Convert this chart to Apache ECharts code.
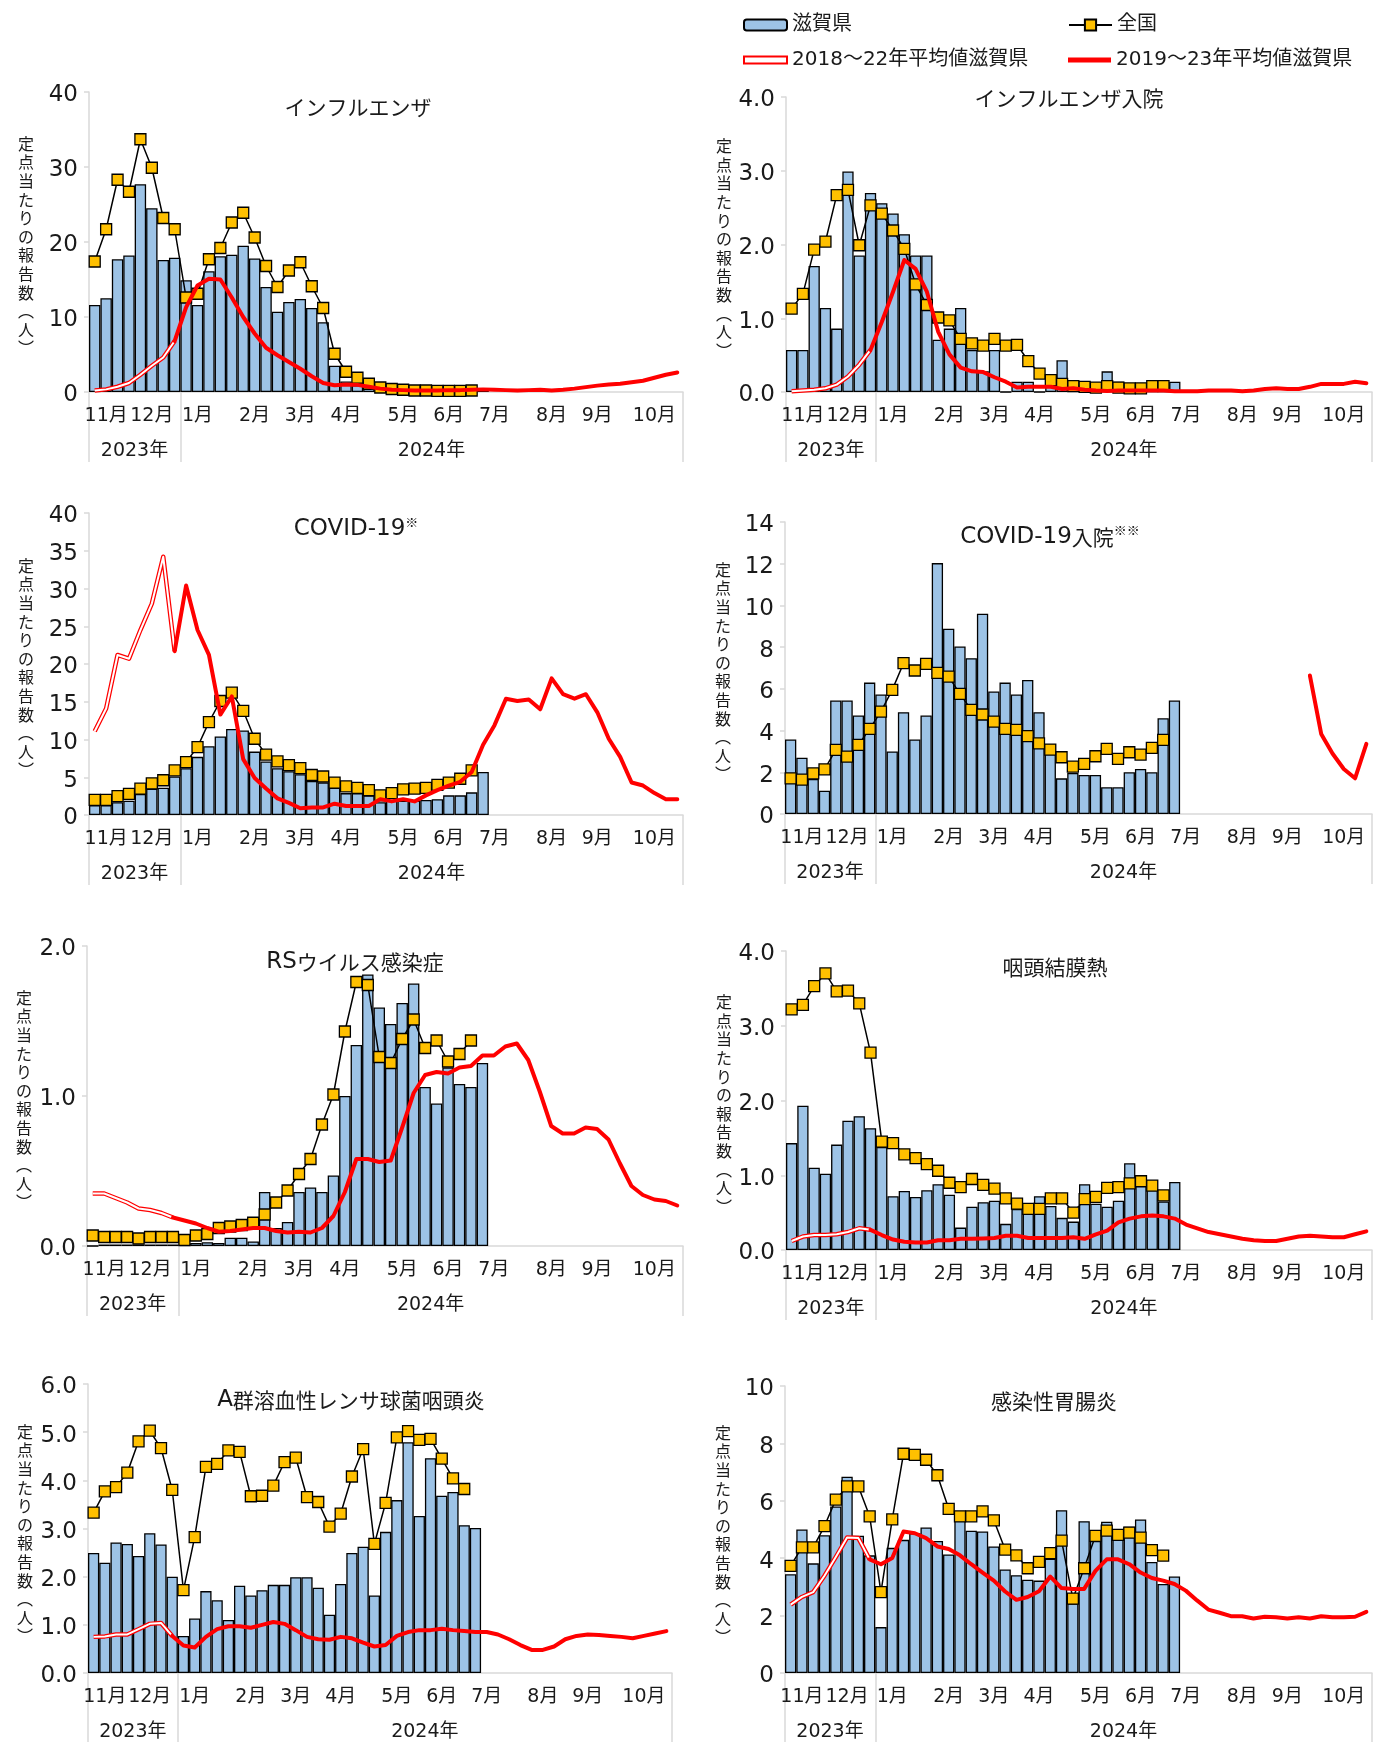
<!DOCTYPE html>
<html lang="ja">
<head>
<meta charset="utf-8">
<title>定点当たり報告数の推移（滋賀県）</title>
<script src="https://cdn.jsdelivr.net/npm/echarts@6/dist/echarts.min.js"></script>
<style>
  html, body { margin: 0; padding: 0; background: #fff; }
  #chart { width: 1373px; height: 1742px; }
</style>
</head>
<body>
<div id="chart"></div>
<script>
// ---- weekly categories: 2023 W45 … 2024 W44 ----
const weeks = [];
for (let w = 45; w <= 52; w++) weeks.push('2023-W' + w);
for (let w = 1; w <= 44; w++) weeks.push('2024-W' + w);

// month labels and where they sit on the week axis
const monthNames = ['11月', '12月', '1月', '2月', '3月', '4月', '5月', '6月', '7月', '8月', '9月', '10月'];
const monthAt = [1, 5, 9, 14, 18, 22, 27, 31, 35, 40, 44, 49];
// year labels and the weeks where each year starts
const yearNames = ['2023年', '2024年'];
const yearAt = [3, 29];
const yearStarts = [0, 8];

// ---- インフルエンザ ----
const fluShiga = [11.6, 12.5, 17.7, 18.2, 27.7, 24.5, 17.6, 17.9, 14.9, 11.6, 16.1, 18.1, 18.3, 19.5, 17.8, 14.0, 10.7, 12.0, 12.4, 11.2, 9.3, 3.5, 1.4, 0.9, 0.6, 0.4, 0.3, 0.3, 0.2, 0.2, 0.2, 0.2, 0.2, 0.2, 0.3];
const fluNational = [17.4, 21.7, 28.3, 26.7, 33.7, 29.9, 23.2, 21.7, 12.6, 13.1, 17.7, 19.2, 22.6, 23.9, 20.6, 16.8, 14.0, 16.2, 17.3, 14.1, 11.2, 5.1, 2.7, 1.9, 1.1, 0.6, 0.4, 0.3, 0.2, 0.2, 0.15, 0.15, 0.15, 0.2];
const fluAvg1822 = [0.2, 0.35, 0.7, 1.2, 2.3, 3.5, 4.6, 6.8];
const fluAvg1923 = [6.8, 11.3, 14.2, 15.1, 15.0, 12.6, 10.0, 7.8, 5.9, 4.9, 4.0, 3.1, 2.1, 1.2, 0.9, 1.0, 0.95, 0.7, 0.45, 0.3, 0.25, 0.2, 0.2, 0.2, 0.25, 0.25, 0.3, 0.35, 0.3, 0.25, 0.2, 0.25, 0.3, 0.2, 0.3, 0.45, 0.65, 0.85, 1.0, 1.1, 1.3, 1.5, 1.9, 2.3, 2.6];

// ---- インフルエンザ入院 ----
const fluHospShiga = [0.57, 0.57, 1.71, 1.14, 0.86, 2.99, 1.85, 2.70, 2.56, 2.42, 2.14, 1.85, 1.85, 0.71, 0.86, 1.14, 0.57, 0.28, 0.57, 0, 0.14, 0.14, 0, 0.1, 0.43, 0.1, 0, 0, 0.28, 0.14, 0, 0, 0.07, 0.07, 0.14];
const fluHospNational = [1.13, 1.33, 1.93, 2.04, 2.67, 2.74, 1.99, 2.53, 2.42, 2.19, 1.94, 1.46, 1.18, 1.01, 0.97, 0.72, 0.66, 0.63, 0.72, 0.63, 0.64, 0.42, 0.25, 0.16, 0.11, 0.08, 0.07, 0.06, 0.08, 0.06, 0.05, 0.05, 0.08, 0.08];
const fluHospAvg1822 = [0.01, 0.02, 0.03, 0.05, 0.1, 0.21, 0.37, 0.57];
const fluHospAvg1923 = [0.57, 0.95, 1.36, 1.79, 1.67, 1.36, 0.82, 0.51, 0.33, 0.28, 0.27, 0.2, 0.14, 0.06, 0.07, 0.07, 0.07, 0.04, 0.05, 0.03, 0.02, 0.015, 0.02, 0.02, 0.02, 0.02, 0.02, 0.01, 0.01, 0.01, 0.02, 0.02, 0.02, 0.01, 0.02, 0.04, 0.05, 0.04, 0.04, 0.07, 0.11, 0.11, 0.11, 0.14, 0.12];

// ---- COVID-19 ----
const covidShiga = [1.3, 1.3, 1.7, 1.9, 2.8, 3.5, 3.6, 5.1, 6.2, 7.7, 9.1, 10.4, 11.4, 11.2, 8.4, 7.1, 6.2, 5.8, 5.4, 4.5, 4.3, 3.6, 2.9, 2.9, 2.6, 1.7, 1.9, 1.9, 1.9, 2.0, 2.1, 2.6, 2.6, 3.0, 5.7];
const covidNational = [2.0, 2.0, 2.5, 2.8, 3.5, 4.2, 4.6, 5.9, 7.0, 9.0, 12.3, 15.1, 16.2, 13.8, 10.1, 8.0, 7.1, 6.6, 6.2, 5.3, 5.1, 4.3, 3.8, 3.6, 3.3, 2.6, 2.9, 3.4, 3.5, 3.6, 4.0, 4.3, 4.8, 5.9];
const covidAvg1822 = [11.1, 14.1, 21.2, 20.7, 24.5, 28.0, 34.2, 21.7];
const covidAvg1923 = [21.7, 30.4, 24.5, 21.2, 13.3, 15.7, 7.4, 4.9, 3.5, 2.2, 1.6, 0.9, 1.0, 1.0, 1.5, 1.2, 1.2, 1.2, 2.1, 1.8, 2.1, 1.8, 2.6, 3.3, 3.9, 4.4, 5.7, 9.3, 11.9, 15.4, 15.1, 15.3, 14.0, 18.1, 16.0, 15.4, 16.0, 13.6, 10.1, 7.7, 4.3, 3.9, 2.9, 2.1, 2.1];

// ---- COVID-19入院 ----
const covidHospShiga = [3.57, 2.7, 1.68, 1.12, 5.44, 5.44, 4.72, 6.3, 5.73, 3.0, 4.88, 3.57, 4.72, 12.03, 8.88, 8.03, 7.47, 9.6, 5.87, 6.3, 5.73, 6.43, 4.88, 3.36, 1.71, 1.97, 1.87, 1.87, 1.28, 1.28, 2.0, 2.16, 2.0, 4.59, 5.44];
const covidHospNational = [1.71, 1.65, 1.95, 2.14, 3.07, 2.75, 3.31, 4.08, 4.91, 5.95, 7.23, 6.88, 7.2, 6.77, 6.59, 5.76, 4.99, 4.77, 4.43, 4.08, 4.03, 3.73, 3.39, 3.09, 2.72, 2.27, 2.4, 2.77, 3.12, 2.64, 2.96, 2.85, 3.17, 3.55];
const covidHospAvg1822 = [];
const covidHospAvg1923 = [6.64, 3.84, 2.9, 2.16, 1.71, 3.36];

// ---- RSウイルス感染症 ----
const rsShiga = [0.0, 0.01, 0.01, 0.01, 0.01, 0.01, 0.01, 0.01, 0.01, 0.02, 0.025, 0.02, 0.055, 0.055, 0.03, 0.36, 0.12, 0.16, 0.36, 0.39, 0.36, 0.47, 1.0, 1.34, 1.81, 1.59, 1.48, 1.62, 1.75, 1.06, 0.95, 1.19, 1.08, 1.06, 1.22];
const rsNational = [0.07, 0.06, 0.06, 0.06, 0.05, 0.06, 0.06, 0.06, 0.04, 0.07, 0.08, 0.12, 0.13, 0.14, 0.155, 0.21, 0.29, 0.37, 0.48, 0.58, 0.81, 1.01, 1.43, 1.76, 1.74, 1.26, 1.22, 1.38, 1.51, 1.32, 1.37, 1.23, 1.28, 1.37];
const rsAvg1822 = [0.35, 0.35, 0.32, 0.29, 0.25, 0.24, 0.22, 0.19];
const rsAvg1923 = [0.19, 0.17, 0.15, 0.12, 0.095, 0.1, 0.11, 0.12, 0.12, 0.1, 0.09, 0.095, 0.09, 0.12, 0.2, 0.36, 0.58, 0.58, 0.56, 0.57, 0.79, 1.02, 1.14, 1.16, 1.15, 1.19, 1.2, 1.27, 1.27, 1.33, 1.35, 1.24, 1.03, 0.8, 0.75, 0.75, 0.79, 0.78, 0.71, 0.55, 0.4, 0.34, 0.31, 0.3, 0.27];

// ---- 咽頭結膜熱 ----
const pcfShiga = [1.43, 1.93, 1.10, 1.02, 1.41, 1.73, 1.79, 1.63, 1.38, 0.72, 0.79, 0.71, 0.80, 0.88, 0.74, 0.30, 0.58, 0.64, 0.66, 0.35, 0.55, 0.49, 0.72, 0.59, 0.43, 0.38, 0.88, 0.62, 0.58, 0.66, 1.16, 0.95, 0.82, 0.65, 0.91];
const pcfNational = [3.22, 3.28, 3.53, 3.70, 3.46, 3.47, 3.30, 2.64, 1.45, 1.43, 1.28, 1.23, 1.15, 1.06, 0.90, 0.84, 0.95, 0.87, 0.82, 0.69, 0.62, 0.55, 0.55, 0.69, 0.69, 0.50, 0.68, 0.71, 0.83, 0.84, 0.89, 0.92, 0.86, 0.73];
const pcfAvg1822 = [0.12, 0.18, 0.2, 0.2, 0.21, 0.24, 0.29, 0.27];
const pcfAvg1923 = [0.27, 0.2, 0.14, 0.11, 0.10, 0.10, 0.13, 0.13, 0.15, 0.15, 0.155, 0.16, 0.19, 0.19, 0.16, 0.16, 0.16, 0.16, 0.17, 0.15, 0.21, 0.26, 0.37, 0.42, 0.45, 0.46, 0.45, 0.42, 0.34, 0.29, 0.24, 0.21, 0.18, 0.15, 0.13, 0.12, 0.12, 0.15, 0.18, 0.19, 0.18, 0.17, 0.17, 0.21, 0.25];

// ---- A群溶血性レンサ球菌咽頭炎 ----
const gasShiga = [2.49, 2.29, 2.71, 2.68, 2.43, 2.9, 2.67, 2.0, 0.77, 1.13, 1.70, 1.51, 1.10, 1.81, 1.61, 1.72, 1.83, 1.83, 1.99, 1.99, 1.77, 1.21, 1.85, 2.49, 2.62, 1.61, 2.93, 3.59, 4.79, 3.26, 4.46, 3.68, 3.76, 3.07, 3.01];
const gasNational = [3.33, 3.77, 3.86, 4.16, 4.81, 5.03, 4.67, 3.80, 1.72, 2.82, 4.28, 4.34, 4.62, 4.59, 3.67, 3.68, 3.89, 4.38, 4.47, 3.65, 3.55, 3.04, 3.31, 4.08, 4.65, 2.68, 3.53, 4.89, 5.02, 4.84, 4.86, 4.45, 4.04, 3.82];
const gasAvg1822 = [0.75, 0.76, 0.80, 0.80, 0.91, 1.02, 1.04, 0.77];
const gasAvg1923 = [0.77, 0.57, 0.53, 0.75, 0.91, 0.97, 0.97, 0.94, 1.0, 1.06, 1.02, 0.89, 0.75, 0.70, 0.69, 0.75, 0.72, 0.63, 0.55, 0.58, 0.77, 0.85, 0.89, 0.89, 0.92, 0.89, 0.87, 0.85, 0.85, 0.80, 0.70, 0.58, 0.48, 0.48, 0.55, 0.70, 0.77, 0.80, 0.79, 0.77, 0.75, 0.72, 0.77, 0.82, 0.87];

// ---- 感染性胃腸炎 ----
const gastroShiga = [3.44, 5.0, 3.82, 4.8, 5.8, 6.84, 4.78, 4.1, 1.6, 4.36, 4.64, 4.87, 5.07, 4.6, 4.13, 5.32, 4.96, 4.93, 4.41, 3.61, 3.41, 3.25, 3.22, 3.98, 5.67, 2.42, 5.29, 4.6, 5.27, 4.75, 5.1, 5.35, 3.87, 3.1, 3.36];
const gastroNational = [3.73, 4.38, 4.38, 5.12, 6.04, 6.5, 6.5, 5.46, 2.82, 5.35, 7.64, 7.6, 7.43, 6.89, 5.72, 5.46, 5.46, 5.63, 5.32, 4.3, 4.1, 3.65, 3.87, 4.18, 4.61, 2.59, 3.65, 4.78, 4.96, 4.81, 4.89, 4.72, 4.28, 4.09];
const gastroAvg1822 = [2.38, 2.65, 2.82, 3.39, 4.04, 4.72, 4.7, 3.96];
const gastroAvg1923 = [3.96, 3.79, 4.01, 4.93, 4.87, 4.7, 4.41, 4.32, 4.1, 3.79, 3.5, 3.22, 2.84, 2.55, 2.65, 2.85, 3.36, 2.96, 2.93, 2.93, 3.56, 3.96, 3.96, 3.79, 3.5, 3.31, 3.22, 3.1, 2.87, 2.53, 2.21, 2.1, 1.98, 1.98, 1.9, 1.96, 1.94, 1.9, 1.94, 1.9, 1.98, 1.94, 1.94, 1.96, 2.13];

// ---- panel definitions (title pieces, data, axis scale) ----
// title pieces: [latin part, japanese part, note mark]
const panels = [
  { title: ['', 'インフルエンザ', ''], shiga: fluShiga, nat: fluNational, prev: fluAvg1822, cur: fluAvg1923, curStart: 7, max: 40, step: 10, dec: 0 },
  { title: ['', 'インフルエンザ入院', ''], shiga: fluHospShiga, nat: fluHospNational, prev: fluHospAvg1822, cur: fluHospAvg1923, curStart: 7, max: 4, step: 1, dec: 1 },
  { title: ['COVID-19', '', '※'], shiga: covidShiga, nat: covidNational, prev: covidAvg1822, cur: covidAvg1923, curStart: 7, max: 40, step: 5, dec: 0 },
  { title: ['COVID-19', '入院', '※※'], shiga: covidHospShiga, nat: covidHospNational, prev: covidHospAvg1822, cur: covidHospAvg1923, curStart: 46, max: 14, step: 2, dec: 0 },
  { title: ['RS', 'ウイルス感染症', ''], shiga: rsShiga, nat: rsNational, prev: rsAvg1822, cur: rsAvg1923, curStart: 7, max: 2, step: 1, dec: 1 },
  { title: ['', '咽頭結膜熱', ''], shiga: pcfShiga, nat: pcfNational, prev: pcfAvg1822, cur: pcfAvg1923, curStart: 7, max: 4, step: 1, dec: 1 },
  { title: ['A', '群溶血性レンサ球菌咽頭炎', ''], shiga: gasShiga, nat: gasNational, prev: gasAvg1822, cur: gasAvg1923, curStart: 7, max: 6, step: 1, dec: 1 },
  { title: ['', '感染性胃腸炎', ''], shiga: gastroShiga, nat: gastroNational, prev: gastroAvg1822, cur: gastroAvg1923, curStart: 7, max: 10, step: 2, dec: 0 }
];

// plot boxes [left, top, right, bottom] and title centres
const boxes = [
  [89, 92, 683, 392], [786, 97, 1372, 392],
  [89, 513, 683, 815], [785, 522, 1372, 814],
  [87, 946, 683, 1246], [786, 951, 1372, 1250],
  [88, 1384, 672, 1676], [785, 1386, 1372, 1676]
];
const titlePos = [
  [358, 107], [1069, 98],
  [356, 529], [1050, 537],
  [355, 962], [1055, 967],
  [351, 1400], [1054, 1401]
];

const FONT_JP = "'Noto Sans CJK JP', 'Noto Sans', sans-serif";
const FONT = "'DejaVu Sans', 'Noto Sans CJK JP', sans-serif";
const INK = '#1a1a1a';
const AXIS = '#d9d9d9';
const RED = '#ff0000';
const yName = ['定', '点', '当', 'た', 'り', 'の', '報', '告', '数', '︵', '人', '︶'].join('\n');

const monthLabels = weeks.map(() => '');
monthAt.forEach((idx, i) => { monthLabels[idx] = monthNames[i]; });
const yearLabels = weeks.map(() => '');
yearAt.forEach((idx, i) => { yearLabels[idx] = yearNames[i]; });

function padSeries(values, start) {
  const out = weeks.map(() => null);
  values.forEach((v, i) => { out[start + i] = v; });
  return out;
}

const legendText = { fontSize: 20, color: INK, fontFamily: FONT };
const option = {
  animation: false,
  backgroundColor: '#fff',
  textStyle: { fontFamily: FONT, color: INK },
  grid: [], xAxis: [], yAxis: [], series: [], graphic: [],
  legend: [
    { left: 743, top: 15, padding: 0, selectedMode: false, itemWidth: 43, itemHeight: 11,
      textStyle: legendText, data: [{ name: '滋賀県', icon: 'roundRect' }] },
    { left: 1068, top: 15, padding: 0, selectedMode: false, itemWidth: 43, itemHeight: 14,
      textStyle: legendText, data: [{ name: '全国' }] },
    { left: 743, top: 50, padding: 0, selectedMode: false, itemWidth: 43, itemHeight: 7,
      textStyle: legendText,
      data: [{ name: '2018～22年平均値滋賀県', icon: 'rect', itemStyle: { color: '#fff', borderColor: RED, borderWidth: 2 } }] },
    { left: 1068, top: 50, padding: 0, selectedMode: false, itemWidth: 43, itemHeight: 5,
      textStyle: legendText,
      data: [{ name: '2019～23年平均値滋賀県', icon: 'rect', itemStyle: { color: RED, borderWidth: 0 } }] }
  ]
};

panels.forEach((p, k) => {
  const [x0, y0, x1, y1] = boxes[k];
  const isLeft = x0 < 400;
  option.grid.push({ left: x0, top: y0, width: x1 - x0, height: y1 - y0 });

  // month level
  option.xAxis.push({
    gridIndex: k, type: 'category', data: weeks, boundaryGap: true, position: 'bottom',
    axisLine: { onZero: false, lineStyle: { color: AXIS, width: 1.5 } },
    axisTick: { show: false },
    axisLabel: { interval: 0, margin: 15, fontSize: 19, color: INK, fontFamily: FONT,
                 formatter: (v, i) => monthLabels[i] }
  });
  // year level with separators
  option.xAxis.push({
    gridIndex: k, type: 'category', data: weeks, boundaryGap: true, position: 'bottom',
    axisLine: { show: false, onZero: false },
    axisTick: { show: true, length: 70, interval: (i) => yearStarts.indexOf(i) >= 0,
                lineStyle: { color: AXIS, width: 1.5 } },
    axisLabel: { interval: 0, margin: 50, fontSize: 19, color: INK, fontFamily: FONT,
                 padding: [0, 0, 0, 11], formatter: (v, i) => yearLabels[i] }
  });

  option.yAxis.push({
    gridIndex: k, type: 'value', min: 0, max: p.max, interval: p.step,
    axisLine: { show: true, onZero: false, lineStyle: { color: AXIS, width: 1.5 } },
    axisTick: { show: true, length: 5, lineStyle: { color: AXIS, width: 1.5 } },
    splitLine: { show: false },
    axisLabel: { margin: 11, formatter: (v) => '{v|' + v.toFixed(p.dec) + '}',
                 rich: { v: { fontSize: 23, color: INK, fontFamily: FONT, padding: [7, 0, 0, 0] } } }
  });

  // axis title, stacked vertically beside the value axis
  option.graphic.push({
    type: 'text', x: x0 - (isLeft ? 63 : 62), y: (y0 + y1) / 2 + 4, silent: true,
    style: { text: yName, align: 'center', verticalAlign: 'middle', fill: INK,
             fontSize: 16, lineHeight: 18.6, fontFamily: FONT_JP }
  });

  const xi = 2 * k;
  option.series.push({
    type: 'bar', name: '滋賀県', xAxisIndex: xi, yAxisIndex: k, data: p.shiga,
    barCategoryGap: '0%', silent: true, z: 2,
    itemStyle: { color: '#9dc3e6', borderColor: '#000', borderWidth: 1.3 }
  });
  option.series.push({
    type: 'line', name: '全国', xAxisIndex: xi, yAxisIndex: k, data: p.nat,
    symbol: 'rect', symbolSize: 11, showSymbol: true, showAllSymbol: true, silent: true, z: 3,
    itemStyle: { color: '#ffc000', borderColor: '#000', borderWidth: 1.3 },
    lineStyle: { color: '#000', width: 1.5 }
  });
  if (p.prev.length) {
    const prevData = padSeries(p.prev, 0);
    option.series.push({
      type: 'line', name: '2018～22年平均値滋賀県', xAxisIndex: xi, yAxisIndex: k, data: prevData,
      showSymbol: false, silent: true, z: 4,
      lineStyle: { color: RED, width: 4.5, join: 'round' }
    });
    option.series.push({
      type: 'line', name: 'prevAvgInner', xAxisIndex: xi, yAxisIndex: k, data: prevData,
      showSymbol: false, silent: true, z: 5,
      lineStyle: { color: '#fff', width: 2, join: 'round' }
    });
  }
  option.series.push({
    type: 'line', name: '2019～23年平均値滋賀県', xAxisIndex: xi, yAxisIndex: k,
    data: padSeries(p.cur, p.curStart),
    showSymbol: false, silent: true, z: 6,
    lineStyle: { color: RED, width: 4, join: 'round', cap: 'round' }
  });

  // panel title: latin part, japanese part, superscript note mark
  const [latin, jp, mark] = p.title;
  let text = '';
  if (latin) text += '{l|' + latin + '}';
  if (jp) text += '{a|' + jp + '}';
  if (mark) text += '{s|' + mark + '}';
  option.graphic.push({
    type: 'text', x: titlePos[k][0], y: titlePos[k][1], silent: true,
    style: {
      text: text, align: 'center', verticalAlign: 'middle', fill: INK,
      rich: {
        l: { fontSize: 23, fontFamily: FONT, fill: INK, lineHeight: 26 },
        a: { fontSize: 21, fontFamily: FONT_JP, fill: INK, lineHeight: 26 },
        s: { fontSize: 13, fontFamily: FONT_JP, fill: INK, verticalAlign: 'top', lineHeight: 26 }
      }
    }
  });
});

const chart = echarts.init(document.getElementById('chart'), null, { renderer: 'canvas' });
chart.setOption(option);
</script>
</body>
</html>
